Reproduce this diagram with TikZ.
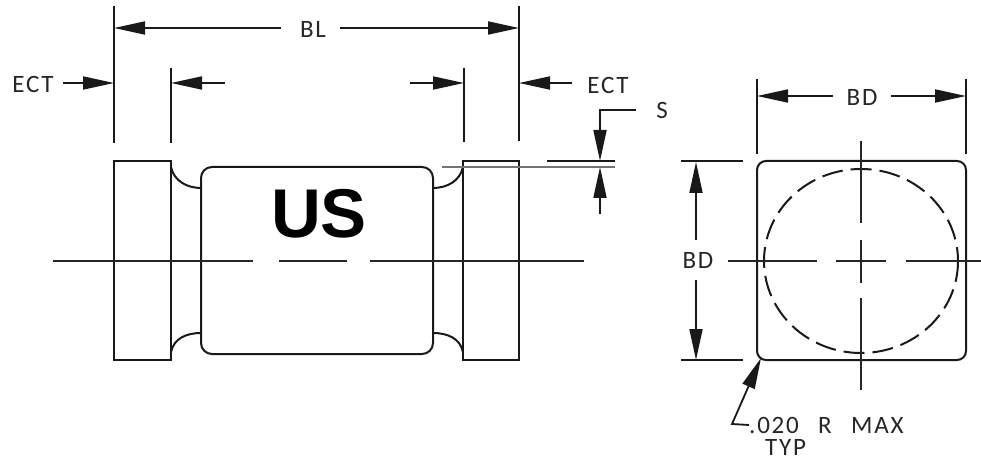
\documentclass[tikz,border=0pt]{standalone}
\usepackage{fontspec}
\usepackage{tikz}
\usetikzlibrary{arrows.meta}
\newfontfamily\dimfont[LetterSpace=7]{Carlito}
\newfontfamily\markfont[Ligatures=TeX]{Liberation Sans}
\tikzset{
	partline/.style={line width=2pt,black!90},
	thinline/.style={line width=1.8pt,black!90},
	centerline/.style={line width=1.6pt,black!85},
	dimarrow/.style={thinline,-{Triangle[length=31pt,width=13pt]},shorten >=0pt},
	dimtext/.style={inner sep=0pt,font=\fontsize{25}{27}\selectfont\dimfont,text=black!85},
}

\begin{document}
\begin{tikzpicture}[x=1pt,y=-1pt]
	\useasboundingbox (0,0) rectangle (981,462);
	\clip (0,0) rectangle (981,462);
	% side view
	\path (114,161) coordinate (lefttl);
	\path (171,360) coordinate (leftbr);
	\path (463,161) coordinate (righttl);
	\path (519,360) coordinate (rightbr);
	\path (201,167) coordinate (bodytl);
	\path (433,354) coordinate (bodybr);
	\path (171,167) coordinate (filletnw);
	\path (201,188) coordinate (filletnw2);
	\path (171,352) coordinate (filletsw);
	\path (201,333) coordinate (filletsw2);
	\path (463,167) coordinate (filletne);
	\path (433,188) coordinate (filletne2);
	\path (463,352) coordinate (filletse);
	\path (433,333) coordinate (filletse2);
	% end view
	\path (757,161) coordinate (endtl);
	\path (966,360) coordinate (endbr);
	\path (861,261) coordinate (endc);

	\draw[partline] (lefttl) rectangle (leftbr);
	\draw[partline] (righttl) rectangle (rightbr);
	\draw[partline,rounded corners=11pt] (bodytl) rectangle (bodybr);
	\draw[partline] (filletnw) .. controls +(3,14) and +(-14,0) .. (filletnw2);
	\draw[partline] (filletsw) .. controls +(3,-14) and +(-14,0) .. (filletsw2);
	\draw[partline] (filletne) .. controls +(-3,14) and +(14,0) .. (filletne2);
	\draw[partline] (filletse) .. controls +(-3,-14) and +(14,0) .. (filletse2);
	\node (mark) at (319,214) {\fontsize{69}{69}\markfont\bfseries US};

	\draw[centerline] (53,261) -- (253,261);
	\draw[centerline] (279,261) -- (347,261);
	\draw[centerline] (370,261) -- (584,261);

	% BL
	\draw[thinline] (114,6) -- (114,143);
	\draw[thinline] (519,6) -- (519,141);
	\draw[thinline] (171,68) -- (171,143);
	\draw[thinline] (464,68) -- (464,142);
	\node[dimtext] (bl) at (313,29) {BL};
	\draw[dimarrow] (281,28) -- (114,28);
	\draw[dimarrow] (340,28) -- (519,28);

	% ECT
	\node[dimtext] (ectl) at (33,84) {ECT};
	\node[dimtext] (ectr) at (608,85) {ECT};
	\draw[dimarrow] (63,83) -- (114,83);
	\draw[dimarrow] (225,83) -- (171,83);
	\draw[dimarrow] (410,83) -- (464,83);
	\draw[dimarrow] (572,83) -- (519,83);

	% S
	\draw[thinline] (547,161) -- (615,161);
	\draw[thinline,black!55] (442,167) -- (615,167);
	\node[dimtext] (s) at (662,110) {S};
	\draw[dimarrow] (636,110) -- (600,110) -- (600,161);
	\draw[dimarrow] (600,214) -- (600,167);

	% end view
	\draw[partline,rounded corners=9pt] (endtl) rectangle (endbr);
	\draw[partline,dash pattern=on 21pt off 8pt] (endc) ellipse [x radius=97,y radius=92];
	\draw[centerline] (861,141) -- (861,223);
	\draw[centerline] (861,240) -- (861,283);
	\draw[centerline] (861,298) -- (861,390);
	\draw[centerline] (728,261) -- (817,261);
	\draw[centerline] (836,261) -- (886,261);
	\draw[centerline] (906,261) -- (981,261);

	% BD
	\draw[thinline] (757,79) -- (757,154);
	\draw[thinline] (966,79) -- (966,154);
	\node[dimtext] (bdt) at (862,97) {BD};
	\draw[dimarrow] (833,96) -- (757,96);
	\draw[dimarrow] (891,96) -- (966,96);
	\draw[thinline] (681,161) -- (743,161);
	\draw[thinline] (681,360) -- (743,360);
	\node[dimtext] (bdl) at (698,260) {BD};
	\draw[dimarrow] (696,240) -- (696,162);
	\draw[dimarrow] (696,280) -- (696,360);

	% radius note
	\node[dimtext,anchor=west] (rad) at (749,425) {.020\hspace{0.48em} R\hspace{0.48em} MAX};
	\node[dimtext,anchor=west] (typ) at (765,447) {TYP};
	\draw[dimarrow] (rad.west) -- (732,424) -- (761,358);
\end{tikzpicture}
\end{document}
